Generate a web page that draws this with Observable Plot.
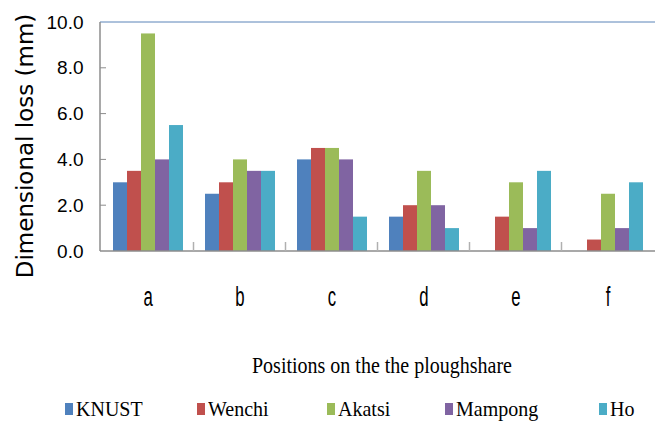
<!DOCTYPE html>
<html>
<head>
<meta charset="utf-8">
<script src="https://cdn.jsdelivr.net/npm/d3@7"></script>
<script src="https://cdn.jsdelivr.net/npm/@observablehq/plot@0.6"></script>
<style>
  html, body { margin: 0; padding: 0; background: #fff; }
  #wrap { position: relative; width: 655px; height: 423px; overflow: hidden; background: #fff; }
  #chart { position: absolute; left: 0; top: 0; }
  .serif { font-family: "Liberation Serif", "Times New Roman", serif; font-size: 20px; line-height: 1; white-space: nowrap; color: #000; }
  .xtitle { position: absolute; left: 252px; top: 356px; transform: scaleY(1.2); transform-origin: 0 16.75px; }
  .leg { position: absolute; top: 399px; }
  .leg span.sw { position: absolute; left: 0; top: 4px; width: 8px; height: 12px; }
  .leg span.tx { position: absolute; left: 11px; top: 0; transform: scaleY(1.1); transform-origin: 0 16.75px; }
</style>
</head>
<body>
<div id="wrap">
  <div id="chart"></div>
  <div class="xtitle serif">Positions on the the ploughshare</div>
  <div id="legend"></div>
</div>
<script>
// ---- data ----
const categories = ["a", "b", "c", "d", "e", "f"];
const sites = ["KNUST", "Wenchi", "Akatsi", "Mampong", "Ho"];
const KNUST   = [3.0, 2.5, 4.0, 1.5, 0.0, 0.0];
const Wenchi  = [3.5, 3.0, 4.5, 2.0, 1.5, 0.5];
const Akatsi  = [9.5, 4.0, 4.5, 3.5, 3.0, 2.5];
const Mampong = [4.0, 3.5, 4.0, 2.0, 1.0, 1.0];
const Ho      = [5.5, 3.5, 1.5, 1.0, 3.5, 3.0];
const siteColors = ["#4F81BD", "#C0504D", "#9BBB59", "#8064A2", "#4BACC6"];
const yTicks = [0, 2, 4, 6, 8, 10];
const yLabel = "Dimensional loss (mm)";
const legendLeft = [65, 197, 327, 445, 599];

const seriesValues = [KNUST, Wenchi, Akatsi, Mampong, Ho];
const data = [];
categories.forEach((c, i) => {
  sites.forEach((s, j) => data.push({pos: c, site: s, value: seriesValues[j][i]}));
});

const W = 655, H = 320, ML = 100, MT = 22, MB = 69;
const plot = Plot.plot({
  width: W,
  height: H,
  marginLeft: ML,
  marginRight: 0,
  marginTop: MT,
  marginBottom: MB,
  style: {background: "transparent", color: "#000"},
  fx: {domain: categories, paddingInner: 0.225, paddingOuter: 0.12, label: null},
  x: {domain: sites, padding: 0, axis: null},
  y: {domain: [0, 10], label: null},
  color: {domain: sites, range: siteColors},
  marks: [
    Plot.barY(data, {fx: "pos", x: "site", y: "value", fill: "site"}),
    Plot.axisFx({anchor: "bottom", tickSize: 0, tickPadding: 35, label: null,
      fontSize: 27, fontFamily: "'Liberation Sans', Arial, sans-serif"}),
    Plot.axisY({anchor: "left", ticks: yTicks, tickFormat: d => d.toFixed(1), tickSize: 0, tickPadding: 20, dx: -9, label: null,
      fontSize: 19, fontFamily: "'Liberation Sans', Arial, sans-serif"})
  ]
});
document.getElementById("chart").appendChild(plot);

const svg = d3.select(plot);

// condense the category labels (narrow, tall face in the reference)
svg.selectAll('g[aria-label="fx-axis tick label"] text').each(function () {
  const b = this.getBBox();
  const cx = b.x + b.width / 2;
  const old = this.getAttribute("transform") || "";
  this.setAttribute("transform", `${old} translate(${cx},0) scale(0.62,1) translate(${-cx},0)`);
});

// ---- axis lines, ticks and separators drawn from the library's scales ----
const fx = plot.scale("fx");
const y = plot.scale("y");
const y0 = y.apply(0), y10 = y.apply(10);
const g = svg.append("g");
g.append("line").attr("x1", ML).attr("x2", W).attr("y1", y10).attr("y2", y10)
  .attr("stroke", "#5b84b8").attr("stroke-width", 1);
g.append("line").attr("x1", ML).attr("x2", ML).attr("y1", y10).attr("y2", y0)
  .attr("stroke", "#8c8c8c").attr("stroke-width", 1.5);
g.append("line").attr("x1", ML).attr("x2", W).attr("y1", y0).attr("y2", y0)
  .attr("stroke", "#8c8c8c").attr("stroke-width", 1.5);
yTicks.filter(t => t > 0 && t < 10).forEach(t => {
  g.append("line").attr("x1", ML).attr("x2", ML + 6).attr("y1", y.apply(t)).attr("y2", y.apply(t))
    .attr("stroke", "#8c8c8c").attr("stroke-width", 1);
});
const gap = fx.step - fx.bandwidth;
categories.slice(1).forEach(c => {
  const xb = fx.apply(c) - gap / 2;
  g.append("line").attr("x1", xb).attr("x2", xb).attr("y1", y0 - 9).attr("y2", y0)
    .attr("stroke", "#b0b0b0").attr("stroke-width", 1.5);
});
svg.append("text")
  .attr("transform", `translate(${33},${146}) rotate(-90)`)
  .attr("text-anchor", "middle")
  .attr("font-family", "'DejaVu Sans', Verdana, sans-serif")
  .attr("font-size", 23)
  .attr("fill", "#000")
  .text(yLabel);

// ---- legend ----
const legend = document.getElementById("legend");
sites.forEach((s, i) => {
  const item = document.createElement("div");
  item.className = "leg serif";
  item.style.left = legendLeft[i] + "px";
  item.innerHTML = `<span class="sw" style="background:${siteColors[i]}"></span><span class="tx serif">${s}</span>`;
  legend.appendChild(item);
});
</script>
</body>
</html>
